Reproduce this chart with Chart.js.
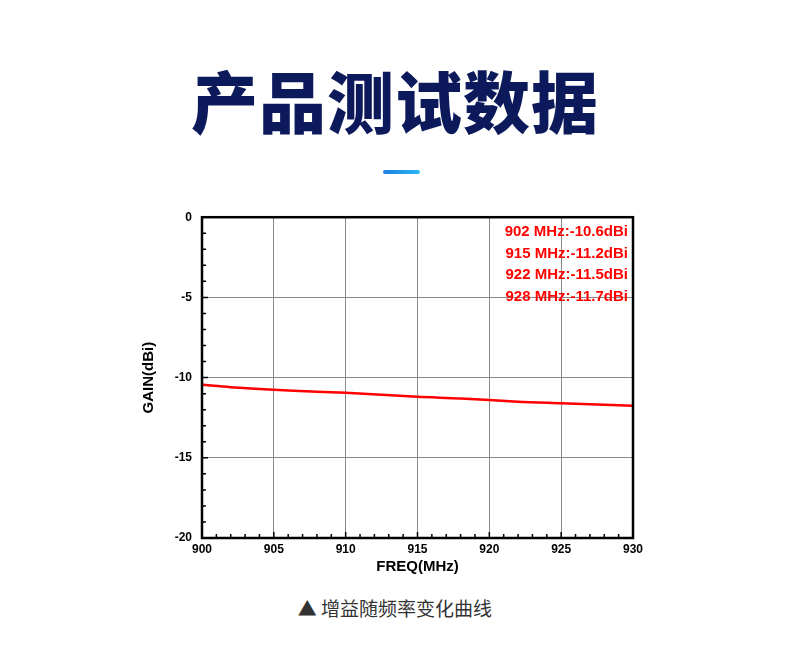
<!DOCTYPE html>
<html><head><meta charset="utf-8">
<script src="https://cdn.jsdelivr.net/npm/chart.js@4"></script>
<style>
body{margin:0;width:790px;height:646px;background:#fff;position:relative;overflow:hidden;font-family:"Noto Sans CJK SC",sans-serif}
#title{position:absolute;top:54px;left:0;width:790px;text-align:center;font-size:67px;font-weight:900;color:#0c1a5c;letter-spacing:1px;line-height:90px}
#bar{position:absolute;left:383px;top:170px;width:37px;height:4px;border-radius:2px;background:linear-gradient(90deg,#1f7fe0,#28b8f0)}
#wrap{position:absolute;left:140px;top:200px;width:520px;height:380px}
#cap{position:absolute;top:594px;left:0;width:790px;text-align:center;font-size:19px;color:#333}
</style></head><body>
<div id="title">产品测试数据</div>
<div id="bar"></div>
<div id="wrap"><canvas id="c"></canvas></div>
<div id="cap">▲ 增益随频率变化曲线</div>
<script>
// data
const freqs = [900, 902, 906, 910, 915, 918, 922, 925, 928, 930];
const gains = [-10.45, -10.6, -10.8, -10.95, -11.2, -11.3, -11.5, -11.6, -11.7, -11.75];
const notes = ['902 MHz:-10.6dBi', '915 MHz:-11.2dBi', '922 MHz:-11.5dBi', '928 MHz:-11.7dBi'];
const xTicks = [900, 905, 910, 915, 920, 925, 930];
const yTicks = [0, -5, -10, -15, -20];

const tickFont = { family: 'Liberation Sans', size: 12, weight: 'bold' };

const extras = {
  id: 'extras',
  afterDraw(chart) {
    const { ctx, chartArea: a, scales: { x, y } } = chart;
    ctx.save();
    ctx.strokeStyle = '#000';
    ctx.lineWidth = 1.5;
    // minor ticks, pointing inward
    ctx.beginPath();
    for (let v = 900; v <= 930; v++) {
      const px = x.getPixelForValue(v), len = v % 5 ? 4 : 6;
      ctx.moveTo(px, a.bottom); ctx.lineTo(px, a.bottom - len);
    }
    for (let v = -20; v <= 0; v++) {
      const py = y.getPixelForValue(v), len = v % 5 ? 4 : 6;
      ctx.moveTo(a.left, py); ctx.lineTo(a.left + len, py);
    }
    ctx.stroke();
    ctx.lineWidth = 2.5;
    ctx.strokeRect(a.left, a.top, a.right - a.left, a.bottom - a.top);
    // annotation text
    ctx.fillStyle = '#f00';
    ctx.font = 'bold 15px "Liberation Sans"';
    ctx.textAlign = 'right';
    ctx.textBaseline = 'middle';
    notes.forEach((t, i) => ctx.fillText(t, a.right - 5, a.top + 15 + i * 21.5));
    ctx.restore();
  }
};

new Chart(document.getElementById('c'), {
  type: 'line',
  data: { datasets: [{ data: freqs.map((f, i) => ({ x: f, y: gains[i] })), borderColor: '#f00', borderWidth: 2.5, pointRadius: 0, tension: 0.3 }] },
  options: {
    responsive: true, maintainAspectRatio: false, animation: false,
    layout: { padding: { top: 15, right: 27, left: 0, bottom: 0 } },
    plugins: { legend: { display: false }, tooltip: { enabled: false } },
    scales: {
      x: {
        type: 'linear', min: 900, max: 930,
        afterBuildTicks: s => { s.ticks = xTicks.map(v => ({ value: v })); },
        afterFit: s => { s.height = 42; },
        grid: { color: '#888', lineWidth: 1, drawTicks: false },
        border: { display: false },
        ticks: { color: '#000', font: tickFont, padding: 4, maxRotation: 0 },
        title: { display: true, text: 'FREQ(MHz)', color: '#000', font: { family: 'Liberation Sans', size: 15, weight: 'bold' }, padding: { top: -4 } }
      },
      y: {
        min: -20, max: 0,
        afterBuildTicks: s => { s.ticks = yTicks.map(v => ({ value: v })); },
        afterFit: s => { s.width = 62; },
        grid: { color: '#888', lineWidth: 1, drawTicks: false },
        border: { display: false },
        ticks: { color: '#000', font: tickFont, padding: 10 },
        title: { display: true, text: 'GAIN(dBi)', color: '#000', font: { family: 'Liberation Sans', size: 15, weight: 'bold' }, padding: { top: 0, bottom: 0 } }
      }
    }
  },
  plugins: [extras]
});
</script>
</body></html>
